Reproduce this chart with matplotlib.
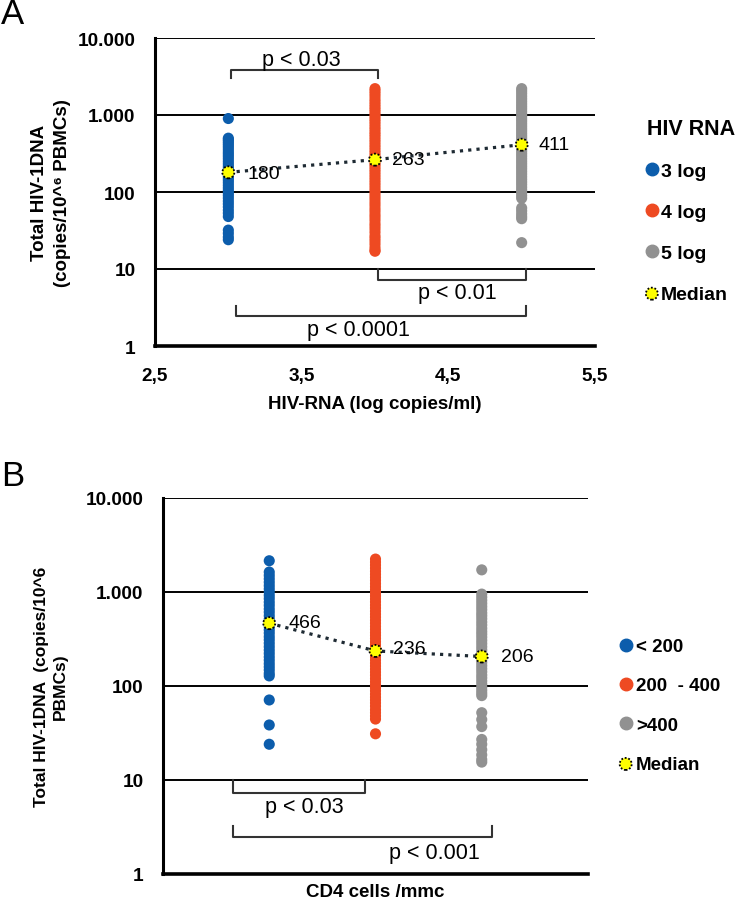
# HIV-1 DNA by HIV RNA and CD4 groups (two panel figure)
import numpy as np
import matplotlib
matplotlib.use('Agg')
import matplotlib.pyplot as plt
from matplotlib.lines import Line2D

plt.rcParams['font.family'] = ['Liberation Sans', 'DejaVu Sans']

# ---- data, panel A (x = log HIV RNA group) ----
rna_groups = ['3 log', '4 log', '5 log']
rna_x = [3, 4, 5]
rna_3log = [900, 500, 480, 455, 430, 405, 380, 355, 330, 310, 290, 270, 250, 232,
            215, 200, 187, 175, 163, 152, 142, 132, 122, 113, 105, 97, 90, 83, 76,
            70, 64, 58, 53, 48, 32, 29, 26, 24]
rna_4log = [2200, 2050, 1900, 1750, 1600, 1480, 1370, 1270, 1180, 1100, 1020, 950,
            880, 820, 760, 700, 650, 600, 560, 520, 480, 445, 410, 380, 350, 325,
            300, 280, 263, 245, 228, 212, 196, 182, 168, 155, 143, 132, 122, 112,
            103, 95, 87, 80, 73, 67, 61, 56, 51, 47, 43, 39, 36, 33, 30, 27, 25, 23,
            21, 19, 17.5, 17]
rna_5log = [2200, 2050, 1900, 1750, 1620, 1500, 1390, 1290, 1200, 1110, 1030, 960,
            890, 830, 770, 715, 665, 620, 575, 535, 500, 465, 430, 411, 395, 365,
            340, 315, 292, 270, 250, 232, 215, 200, 185, 171, 158, 146, 135, 125,
            115, 106, 98, 90, 83, 62, 57, 52, 48, 45, 22]
rna_medians = [180, 263, 411]

# ---- data, panel B (x = CD4 group) ----
cd4_groups = ['< 200', '200  - 400', '>400']
cd4_x = [1, 2, 3]
cd4_lt200 = [2150, 1630, 1500, 1380, 1270, 1170, 1080, 1000, 920, 850, 780, 720,
             660, 610, 560, 515, 466, 430, 395, 365, 335, 310, 285, 262, 241, 222,
             204, 188, 173, 160, 148, 136, 128, 71, 38.5, 24]
cd4_200_400 = [2240, 2080, 1930, 1790, 1660, 1540, 1430, 1330, 1230, 1140, 1060,
               980, 910, 845, 785, 725, 675, 625, 580, 540, 500, 465, 430, 400, 370,
               345, 320, 296, 275, 255, 236, 220, 204, 189, 175, 163, 151, 140, 130,
               120, 111, 103, 96, 89, 82, 76, 71, 66, 61, 56, 52, 48, 44.5, 31]
cd4_gt400 = [1720, 950, 880, 815, 755, 700, 650, 600, 560, 520, 480, 445, 410, 380,
             355, 330, 305, 283, 262, 243, 225, 206, 192, 178, 165, 153, 142, 131,
             122, 113, 105, 97, 90, 84, 79, 52, 44, 37, 27, 24, 21, 18.5, 16.5, 15.5]
cd4_medians = [466, 236, 206]

yticks = [1, 10, 100, 1000, 10000]
ytick_labels = ['1', '10', '100', '1.000', '10.000']

colors = ['#0c5dac', '#ee4a22', '#919191']
median_color = '#ffff00'


def style_axis(ax):
    ax.set_yscale('log')
    ax.set_ylim(1, 10000)
    ax.set_yticks(yticks)
    ax.set_yticklabels(ytick_labels, fontweight='bold', fontsize=13.7)
    ax.yaxis.set_minor_locator(matplotlib.ticker.NullLocator())
    ax.tick_params(axis='both', length=0)
    ax.tick_params(axis='y', pad=14)
    ax.yaxis.grid(True, color='black', lw=1.4)
    ax.set_axisbelow(True)
    for s in ['top', 'right']:
        ax.spines[s].set_visible(False)
    ax.spines['left'].set_linewidth(2.2)
    ax.spines['bottom'].set_linewidth(2.6)


def bracket(ax, x1, x2, y_leg, y_bar, text, tx, ty):
    ax.plot([x1, x1, x2, x2], [y_leg, y_bar, y_bar, y_leg], color='#333333',
            lw=1.5, clip_on=False, zorder=3)
    ax.text(tx, ty, text, ha='center', va='center', fontsize=15.5)


def draw_panel(ax, xs, groups, values, medians, label_offsets):
    for x, vals, c, name in zip(xs, values, colors, groups):
        ax.scatter([x] * len(vals), vals, s=64, color=c, edgecolors='none',
                   label=name, zorder=3)
    ax.plot(xs, medians, color='#1e2a33', lw=2.3, ls=(0, (1, 1.6)), zorder=4)
    med = ax.scatter(xs, medians, s=75, color=median_color, edgecolors='black',
                     linewidths=1.3, linestyle=(0, (1, 1)), zorder=5, label='Median')
    for x, m, off in zip(xs, medians, label_offsets):
        ax.annotate(str(m), (x, m), xytext=off, textcoords='offset pixels',
                    ha='left', va='center', fontsize=14, zorder=6)
    return med


fig = plt.figure(figsize=(7.38, 9.03), dpi=100)

# ---------------- panel A ----------------
axA = fig.add_axes([155 / 738, 1 - 347 / 903, 440 / 738, 308 / 903])
style_axis(axA)
medA = draw_panel(axA, rna_x, rna_groups, [rna_3log, rna_4log, rna_5log],
                  rna_medians, [(19, -1), (17, 0), (17, 0)])
axA.set_xlim(2.5, 5.5)
axA.set_xticks([2.5, 3.5, 4.5, 5.5])
axA.set_xticklabels(['2,5', '3,5', '4,5', '5,5'], fontweight='bold', fontsize=13.7)
axA.tick_params(axis='x', pad=15)
axA.set_xlabel('HIV-RNA (log copies/ml)', fontweight='bold', fontsize=13.5)
axA.xaxis.set_label_coords(0.5, -0.16)
axA.set_ylabel('Total HIV-1DNA\n(copies/10^\u2076 PBMCs)', fontweight='bold',
               fontsize=13.5, linespacing=1.5)
axA.yaxis.set_label_coords(-0.19, 0.5)

bracket(axA, 3.02, 4.02, 3020, 3840, 'p < 0.03', 3.5, 5300)
bracket(axA, 4.02, 5.03, 10, 7.2, 'p < 0.01', 4.56, 4.9)
bracket(axA, 3.05, 5.03, 3.3, 2.45, 'p < 0.0001', 3.89, 1.66)

handles = [Line2D([], [], marker='o', ls='', color=c, markersize=9) for c in colors]
legA = axA.legend(handles + [medA], rna_groups + ['Median'], title='HIV RNA',
                  loc='upper left', bbox_to_anchor=(647 / 738, 1 - 119 / 903),
                  bbox_transform=fig.transFigure, frameon=False,
                  borderaxespad=0, borderpad=0,
                  prop={'weight': 'bold', 'size': 14}, labelspacing=1.2,
                  handlelength=0.5, handletextpad=0.2,
                  title_fontproperties={'weight': 'bold', 'size': 15.5})
legA._legend_box.align = 'left'

fig.text(1 / 738, 1 - 15 / 903, 'A', fontsize=25, va='center', ha='left')

# ---------------- panel B ----------------
axB = fig.add_axes([163 / 738, 1 - 875 / 903, 425 / 738, 376 / 903])
style_axis(axB)
medB = draw_panel(axB, cd4_x, cd4_groups, [cd4_lt200, cd4_200_400, cd4_gt400],
                  cd4_medians, [(19, 1), (18, 2), (19, 0)])
axB.set_xlim(0, 4)
axB.set_xticks([])
axB.set_xlabel('CD4 cells /mmc', fontweight='bold', fontsize=13.5)
axB.xaxis.set_label_coords(0.5, -0.024)
axB.set_ylabel('Total HIV-1DNA  (copies/10^6\nPBMCs)', fontweight='bold',
               fontsize=12.5, linespacing=1.35)
axB.yaxis.set_label_coords(-0.224, 0.5)

bracket(axB, 0.66, 1.9, 10, 7.3, 'p < 0.03', 1.33, 5.2)
bracket(axB, 0.66, 3.1, 3.24, 2.48, 'p < 0.001', 2.55, 1.71)

legB = axB.legend(handles + [medB], cd4_groups + ['Median'],
                  loc='upper left', bbox_to_anchor=(621 / 738, 1 - 639 / 903),
                  bbox_transform=fig.transFigure, frameon=False,
                  borderaxespad=0, borderpad=0,
                  prop={'weight': 'bold', 'size': 13.5}, labelspacing=1.18,
                  handlelength=0.5, handletextpad=0.3)
legB._legend_box.align = 'left'

fig.text(1 / 738, 1 - 476 / 903, 'B', fontsize=25, va='center', ha='left')

fig.savefig('out.png', dpi=100)
